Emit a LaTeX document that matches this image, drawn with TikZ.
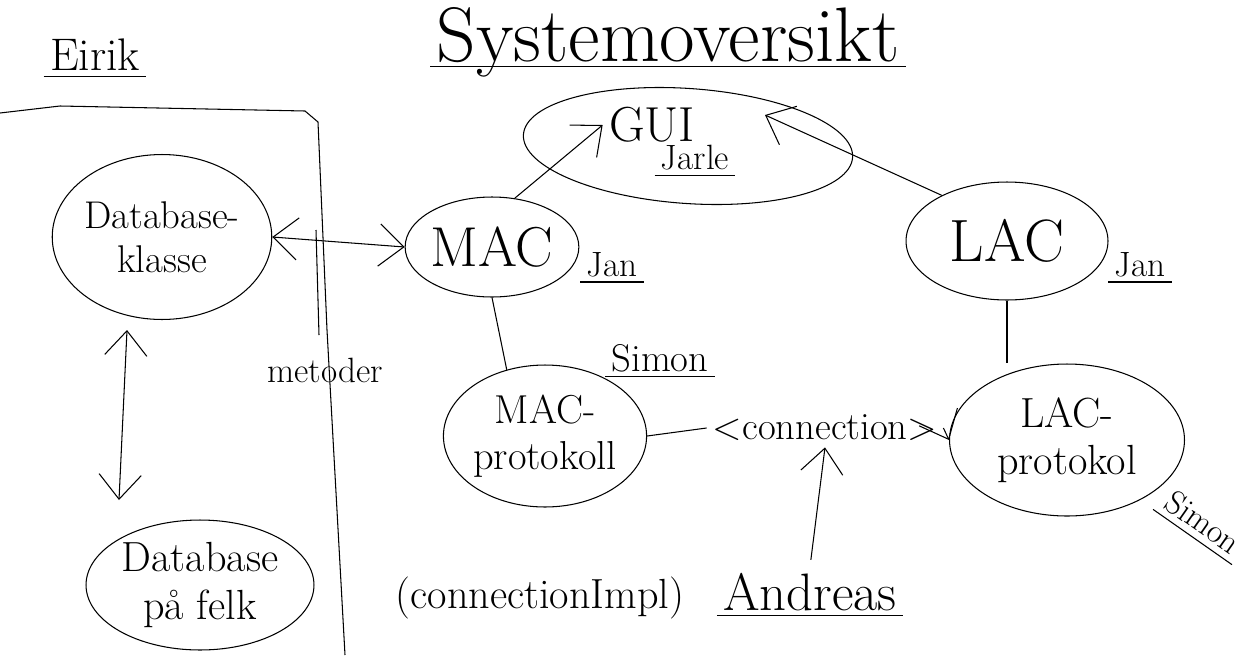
\documentclass[tikz,border=0pt]{standalone}
\usepackage{fontspec}
\usepackage{tikz}
\usetikzlibrary{shapes.geometric}
\usetikzlibrary{arrows.meta}

\begin{document}
\begin{tikzpicture}[x=0.02cm, y=-0.02cm, line width=0.6pt,
    blob/.style={ellipse, draw, inner sep=0pt, align=center},
    pil/.style={-{Straight Barb[length=14pt,width=24pt]}},
    toveis/.style={{Straight Barb[length=14pt,width=24pt]}-{Straight Barb[length=14pt,width=24pt]}}]

    \useasboundingbox (0,0) rectangle (1254,660);

    % Eirik sin del
    \node[font={\fontsize{26}{28}\selectfont}] (eirik) at (95,55) {Eirik};
    \draw (0,113) -- (60,106) -- (305,111) -- (318,122) -- (327,330) -- (345,655);
    \draw (316,230) -- (319,335);

    \node[blob, minimum width=4.3cm, minimum height=3.3cm,
    font={\fontsize{22}{25}\selectfont}] (dbk) at (162,237) {Database-\\klasse};
    \node[blob, minimum width=4.56cm, minimum height=2.6cm,
    font={\fontsize{24}{27}\selectfont}] (dbf) at (200,585) {Database\\på felk};
    \coordinate (dtop) at (127,330);
    \coordinate (dbot) at (119,500);
    \draw[toveis] (dtop) -- (dbot);

    \node[font={\fontsize{20}{22}\selectfont}] (metoder) at (325,370) {metoder};

    % systemoversikt
    \node[font={\fontsize{44}{48}\selectfont}] (title) at (668,42) {Systemoversikt};

    \node[blob, minimum width=6.6cm, minimum height=2.3cm, rotate=-4] (gui) at (688,146) {};
    \node[font={\fontsize{28}{30}\selectfont}] (guitxt) at (652,125) {GUI};
    \node[font={\fontsize{20}{22}\selectfont}] (jarle) at (695,158) {Jarle};

    \node[blob, minimum width=3.44cm, minimum height=2.0cm,
    font={\fontsize{32}{34}\selectfont}] (mac) at (492,247) {MAC};
    \node[font={\fontsize{20}{22}\selectfont}] (janm) at (612,265) {Jan};

    \node[blob, minimum width=4.04cm, minimum height=2.36cm,
    font={\fontsize{34}{36}\selectfont}] (lac) at (1007,241) {LAC};
    \node[font={\fontsize{20}{22}\selectfont}] (janl) at (1140,265) {Jan};

    \node[blob, minimum width=4cm, minimum height=2.84cm,
    font={\fontsize{23}{26}\selectfont}] (macp) at (545,436) {MAC-\\protokoll};
    \node[font={\fontsize{22}{24}\selectfont}] (simon) at (660,358) {Simon};

    \node[blob, minimum width=4.7cm, minimum height=3.04cm,
    font={\fontsize{24}{27}\selectfont}] (lacp) at (1067,440) {LAC-\\protokol};
    \node[font={\fontsize{19}{21}\selectfont}, rotate=-35] (simonb) at (1203,522) {Simon};

    \node[font={\fontsize{22}{24}\selectfont}] (conn) at (825,428) {<connection>};
    \node[font={\fontsize{24}{26}\selectfont}] (impl) at (540,598) {(connectionImpl)};
    \node[font={\fontsize{30}{32}\selectfont}] (andreas) at (810,592) {Andreas};

    \coordinate (gtip) at (765,115);

    \draw[toveis] (dbk.east) -- (mac.west);
    \draw[pil] (mac.65) -- (guitxt.west);
    \draw[pil] (lac.145) -- (gtip);
    \draw (mac.south) -- (macp.120);
    \draw (lac.south) -- (lacp.north -| lac.south);
    \draw (macp.east) -- (conn.west);
    \draw[pil] (conn.east) -- (lacp.west);
    \draw[pil, shorten <=4pt] (andreas.north) -- (conn.south);

    \foreach \n in {eirik,title,jarle,janm,janl,simon,andreas}
    \draw ([yshift=-3pt]\n.base west) -- ([yshift=-3pt]\n.base east);
    \draw (simonb.south west) -- (simonb.south east);

\end{tikzpicture}
\end{document}
